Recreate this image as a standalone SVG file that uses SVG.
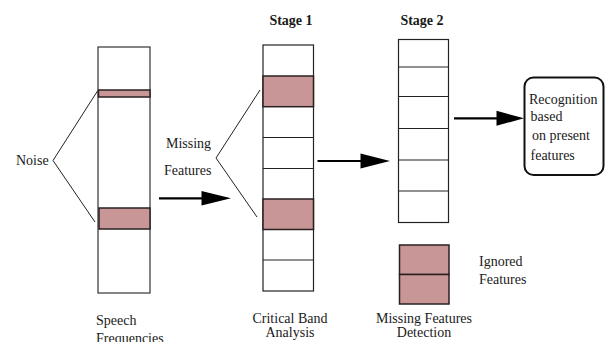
<svg xmlns="http://www.w3.org/2000/svg" width="605" height="342" viewBox="0 0 605 342">
<defs>
<style>
text{font-family:"Liberation Serif","Times New Roman",serif;font-size:14px;fill:#1a1a1a}
.b{font-weight:bold}
.col{fill:#fff;stroke:#333;stroke-width:1.2}
.cell{fill:#fff;stroke:#222;stroke-width:1.2}
.red{fill:#c89696;stroke:#2a2020;stroke-width:1.5}
.br{fill:none;stroke:#222;stroke-width:1}
.ar{stroke:#000;stroke-width:2.2;fill:none}
.hd{fill:#000}
</style>
</defs>
<g id="speech">
<rect class="col" x="98" y="47" width="52" height="246"/>
<rect class="red" x="98.5" y="90" width="51.5" height="7"/>
<rect class="red" x="99" y="208" width="51" height="21"/>
<text x="96" y="325">Speech</text>
<text x="96" y="343">Frequencies</text>
</g>
<g id="noise">
<text x="16" y="165">Noise</text>
<polyline class="br" points="97.5,91 53,160.5 95,222"/>
</g>
<g id="missing">
<text x="166" y="148">Missing</text>
<text x="164" y="175">Features</text>
<polyline class="br" points="260,90 216,158 257,217"/>
</g>
<g id="stage1">
<text class="b" x="291" y="25" text-anchor="middle">Stage 1</text>
<rect class="cell" x="263" y="45" width="50.5" height="246"/>
<line class="cell" x1="263" y1="137.5" x2="313.5" y2="137.5"/>
<line class="cell" x1="263" y1="168.5" x2="313.5" y2="168.5"/>
<line class="cell" x1="263" y1="260" x2="313.5" y2="260"/>
<rect class="red" x="263" y="76" width="50.5" height="30.7"/>
<rect class="red" x="263" y="199" width="50.5" height="30.5"/>
<text x="290" y="322.5" text-anchor="middle">Critical Band</text>
<text x="290" y="337" text-anchor="middle">Analysis</text>
</g>
<g id="stage2">
<text class="b" x="422" y="25" text-anchor="middle">Stage 2</text>
<rect class="cell" x="398.5" y="39.5" width="50" height="183"/>
<line class="cell" x1="398.5" y1="67" x2="448.5" y2="67"/>
<line class="cell" x1="398.5" y1="96.5" x2="448.5" y2="96.5"/>
<line class="cell" x1="398.5" y1="128.5" x2="448.5" y2="128.5"/>
<line class="cell" x1="398.5" y1="160" x2="448.5" y2="160"/>
<line class="cell" x1="398.5" y1="191" x2="448.5" y2="191"/>
</g>
<g id="detection">
<rect class="red" x="399.5" y="245" width="49.5" height="29.5"/>
<rect class="red" x="399.5" y="274.5" width="49.5" height="29.5"/>
<text x="479" y="266">Ignored</text>
<text x="479" y="283.5">Features</text>
<text x="424" y="323" text-anchor="middle">Missing Features</text>
<text x="424" y="337" text-anchor="middle">Detection</text>
</g>
<g id="recognition">
<rect x="524.5" y="77.5" width="79" height="97.5" rx="9" ry="9" fill="#fff" stroke="#111" stroke-width="2"/>
<text x="529" y="104">Recognition</text>
<text x="530.5" y="120.5">based</text>
<text x="532" y="140">on present</text>
<text x="530.5" y="159.5">features</text>
</g>
<g id="connectors">
<line class="ar" x1="159" y1="198.3" x2="203" y2="198.3"/>
<polygon class="hd" points="201.5,191 231,198.3 201.5,205.5"/>
<line class="ar" x1="317.5" y1="161" x2="362" y2="161"/>
<polygon class="hd" points="360.5,153.5 390,161 360.5,168.5"/>
<line class="ar" x1="454" y1="118.3" x2="498" y2="118.3"/>
<polygon class="hd" points="496.5,110.8 524,118.3 496.5,125.8"/>
</g>
</svg>
